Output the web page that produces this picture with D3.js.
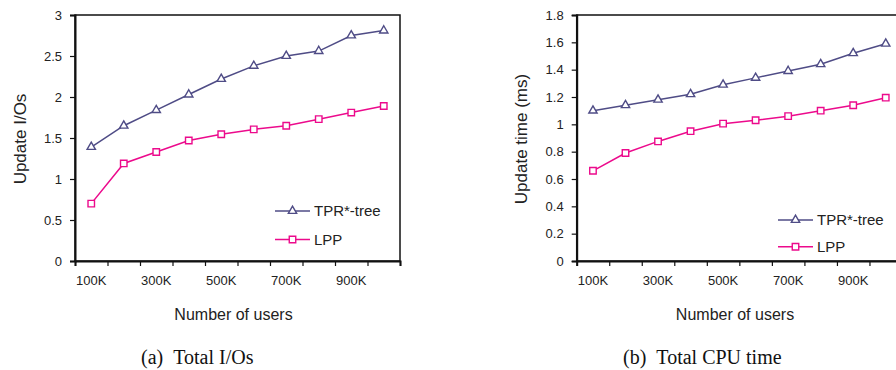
<!DOCTYPE html>
<html>
<head>
<meta charset="utf-8">
<script src="https://cdn.jsdelivr.net/npm/d3@7"></script>
<style>
  body { margin: 0; background: #fff; }
  svg { display: block; }
</style>
</head>
<body>
<svg id="chart" width="896" height="370"></svg>
<script>
// number of users (categories)
const users = ['100K', '200K', '300K', '400K', '500K', '600K', '700K', '800K', '900K', '1000K'];
const shownUsers = ['100K', '300K', '500K', '700K', '900K'];

// (a) update I/Os
const ioTicks = [0, 0.5, 1, 1.5, 2, 2.5, 3];
const ioTpr = [1.39, 1.65, 1.84, 2.03, 2.22, 2.38, 2.50, 2.56, 2.75, 2.81];
const ioLpp = [0.70, 1.19, 1.33, 1.47, 1.545, 1.605, 1.65, 1.73, 1.81, 1.89];

// (b) update CPU time (ms)
const cpuTicks = [0, 0.2, 0.4, 0.6, 0.8, 1, 1.2, 1.4, 1.6, 1.8];
const cpuTpr = [1.10, 1.14, 1.18, 1.22, 1.29, 1.34, 1.39, 1.44, 1.52, 1.59];
const cpuLpp = [0.66, 0.79, 0.875, 0.95, 1.005, 1.03, 1.06, 1.10, 1.14, 1.195];

const seriesNames = ['TPR*-tree', 'LPP'];

const colors = {tpr: '#4f4c86', lpp: '#ec0a8c'};
const sans = 'Arial, "Liberation Sans", Helvetica, sans-serif';
const serif = '"Times New Roman", "Liberation Serif", serif';

const svg = d3.select('#chart');

const panels = [
    {
        left: 75, right: 400, top: 15, bottom: 261,
        ticks: ioTicks, max: 3, tpr: ioTpr, lpp: ioLpp,
        yTitle: 'Update I/Os', yTitleX: 25.5,
        xTitleX: 233.5, caption: '(a)\u00a0\u00a0Total I/Os', captionX: 141,
        legend: {x0: 275, x1: 310, y1: 211, y2: 239.5}
    },
    {
        left: 576.7, right: 902, top: 15, bottom: 261,
        ticks: cpuTicks, max: 1.8, tpr: cpuTpr, lpp: cpuLpp,
        yTitle: 'Update time (ms)', yTitleX: 527,
        xTitleX: 735, caption: '(b)\u00a0\u00a0Total CPU time', captionX: 623,
        legend: {x0: 778, x1: 813, y1: 220, y2: 246.7}
    }
];

const triangle = d3.symbol(d3.symbolTriangle, 30);
const square = d3.symbol(d3.symbolSquare, 42);

panels.forEach(p => {
    const g = svg.append('g');

    const xScale = d3.scaleBand()
        .domain(users)
        .range([p.left, p.right]);

    // band boundaries for the tick marks
    const xEdges = d3.scaleLinear()
        .domain([0, users.length])
        .range([p.left, p.right]);

    const yScale = d3.scaleLinear()
        .domain([0, p.max])
        .range([p.bottom, p.top]);

    // plot frame (top + right)
    g.append('rect')
        .attr('x', p.left)
        .attr('y', p.top)
        .attr('width', p.right - p.left)
        .attr('height', p.bottom - p.top)
        .attr('fill', 'none')
        .attr('stroke', '#111')
        .attr('stroke-width', 1.5);

    // y axis
    const yAxis = g.append('g')
        .attr('transform', `translate(${p.left}, 0)`)
        .call(d3.axisLeft(yScale)
            .tickValues(p.ticks)
            .tickSize(5)
            .tickPadding(8)
            .tickFormat(d => String(+d.toFixed(1))));

    // x tick marks at band edges
    const xTickAxis = g.append('g')
        .attr('transform', `translate(0, ${p.bottom})`)
        .call(d3.axisBottom(xEdges)
            .tickValues(d3.range(users.length + 1))
            .tickSize(5)
            .tickFormat(''));

    // x labels at band centers
    const xAxis = g.append('g')
        .attr('transform', `translate(0, ${p.bottom})`)
        .call(d3.axisBottom(xScale)
            .tickValues(shownUsers)
            .tickSize(0)
            .tickPadding(15));
    xAxis.select('.domain').remove();

    [yAxis, xTickAxis].forEach(a => {
        a.select('.domain').attr('stroke', '#111').attr('stroke-width', 2);
        a.selectAll('.tick line').attr('stroke', '#111').attr('stroke-width', 1.2);
    });
    [yAxis, xAxis].forEach(a => {
        a.selectAll('text')
            .attr('fill', '#222')
            .style('font-family', sans)
            .style('font-size', '13px');
    });

    // series
    const series = [
        {name: seriesNames[0], values: p.tpr, color: colors.tpr, sym: triangle},
        {name: seriesNames[1], values: p.lpp, color: colors.lpp, sym: square}
    ];

    const line = d3.line()
        .x((d, i) => xScale(users[i]) + xScale.bandwidth() / 2)
        .y(d => yScale(d));

    series.forEach(s => {
        g.append('path')
            .datum(s.values)
            .attr('d', line)
            .attr('fill', 'none')
            .attr('stroke', s.color)
            .attr('stroke-width', 1.5);

        g.append('g')
            .selectAll('path')
            .data(s.values)
            .join('path')
            .attr('transform', (d, i) => `translate(${xScale(users[i]) + xScale.bandwidth() / 2}, ${yScale(d)})`)
            .attr('d', s.sym)
            .attr('fill', '#fff')
            .attr('stroke', s.color)
            .attr('stroke-width', 1.4);
    });

    // legend
    const ly = [p.legend.y1, p.legend.y2];
    series.forEach((s, i) => {
        const lg = g.append('g');
        lg.append('line')
            .attr('x1', p.legend.x0)
            .attr('x2', p.legend.x1)
            .attr('y1', ly[i])
            .attr('y2', ly[i])
            .attr('stroke', s.color)
            .attr('stroke-width', 1.5);
        lg.append('path')
            .attr('transform', `translate(${(p.legend.x0 + p.legend.x1) / 2}, ${ly[i]})`)
            .attr('d', s.sym)
            .attr('fill', '#fff')
            .attr('stroke', s.color)
            .attr('stroke-width', 1.4);
        lg.append('text')
            .attr('x', p.legend.x1 + 4)
            .attr('y', ly[i])
            .attr('dy', '0.35em')
            .attr('fill', '#222')
            .style('font-family', sans)
            .style('font-size', '15px')
            .text(s.name);
    });

    // axis titles
    g.append('text')
        .attr('transform', `translate(${p.yTitleX}, ${(p.top + p.bottom) / 2 + 1}) rotate(-90)`)
        .attr('text-anchor', 'middle')
        .attr('fill', '#222')
        .style('font-family', sans)
        .style('font-size', '17px')
        .text(p.yTitle);

    g.append('text')
        .attr('x', p.xTitleX)
        .attr('y', 320)
        .attr('text-anchor', 'middle')
        .attr('fill', '#222')
        .style('font-family', sans)
        .style('font-size', '16px')
        .text('Number of users');

    // caption
    g.append('text')
        .attr('x', p.captionX)
        .attr('y', 364)
        .attr('fill', '#111')
        .style('font-family', serif)
        .style('font-size', '20px')
        .text(p.caption);
});
</script>
</body>
</html>
